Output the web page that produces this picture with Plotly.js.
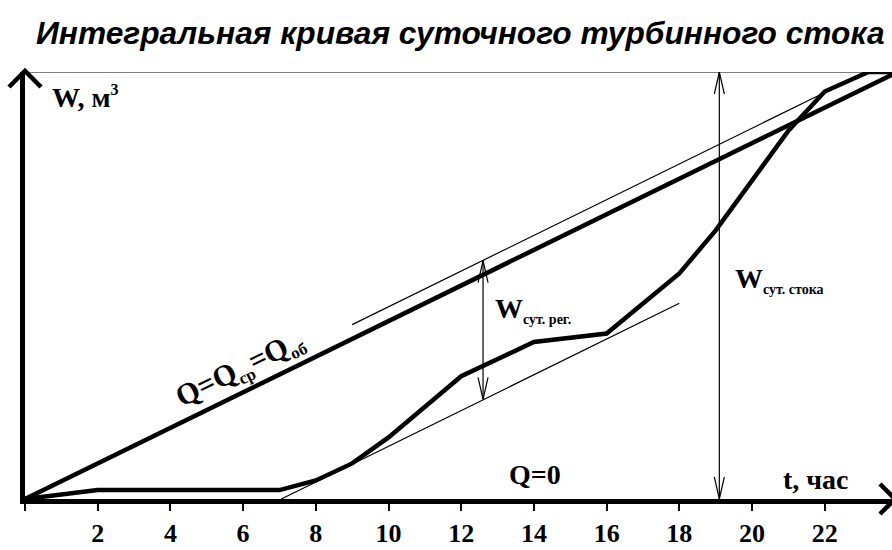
<!DOCTYPE html>
<html>
<head>
<meta charset="utf-8">
<script src="https://cdn.plot.ly/plotly-3.0.1.min.js"></script>
<style>html,body{margin:0;padding:0;background:#fff;}#chart{width:892px;height:550px;}</style>
</head>
<body>
<div id="chart"></div>
<script>
// ---- data (t in hours, W in relative units of daily volume) ----
const tickHours = [0, 2, 4, 6, 8, 10, 12, 14, 16, 18, 20, 22];
const tickLabels = ['', '2', '4', '6', '8', '10', '12', '14', '16', '18', '20', '22'];

const curveT = [0, 2, 7, 8, 9, 10, 12, 14, 16, 18, 19, 20, 21, 22, 23.2, 24];
const curveW = [0, 0.5, 0.5, 1.04, 2.0, 3.46, 6.9, 8.83, 9.3, 12.68, 15.1, 17.9, 20.7, 22.9, 24, 24];

const avgT = [0, 24];
const avgW = [0, 24];

const upperTangentT = [9, 22];
const upperTangentW = [9.8, 22.85];

const lowerTangentT = [7.05, 18];
const lowerTangentW = [0, 11];

const arrowT = [12.6, 19.1];
const arrowBottomW = [5.6, 0];
const arrowTopW = [13.4, 24];

const dayTotalW = 24;

// ---- traces ----
const traces = [];
traces.push({x: avgT, y: avgW, mode: 'lines', line: {color: '#000', width: 4.5}, hoverinfo: 'skip'});
traces.push({x: curveT, y: curveW, mode: 'lines', line: {color: '#000', width: 4.5}, hoverinfo: 'skip'});
traces.push({x: upperTangentT, y: upperTangentW, mode: 'lines', line: {color: '#000', width: 1.2}, hoverinfo: 'skip'});
traces.push({x: lowerTangentT, y: lowerTangentW, mode: 'lines', line: {color: '#000', width: 1.2}, hoverinfo: 'skip'});
for (let i = 0; i < arrowT.length; i++) {
  traces.push({x: [arrowT[i], arrowT[i]], y: [arrowBottomW[i], arrowTopW[i]], mode: 'lines',
    line: {color: '#000', width: 1.2}, hoverinfo: 'skip'});
}

// ---- decorations ----
const shapes = [];
shapes.push({type: 'line', xref: 'paper', yref: 'y', x0: 0, x1: 1, y0: dayTotalW, y1: dayTotalW,
  line: {color: '#000', width: 1.2}});
for (let i = 0; i < arrowT.length; i++) {
  shapes.push({type: 'path', xref: 'x', yref: 'y', xsizemode: 'pixel', ysizemode: 'pixel',
    xanchor: arrowT[i], yanchor: arrowTopW[i], path: 'M -5,-22 L 0,0 L 5,-22',
    line: {color: '#000', width: 1.2}});
  shapes.push({type: 'path', xref: 'x', yref: 'y', xsizemode: 'pixel', ysizemode: 'pixel',
    xanchor: arrowT[i], yanchor: arrowBottomW[i], path: 'M -5,22 L 0,0 L 5,22',
    line: {color: '#000', width: 1.2}});
}
shapes.push({type: 'path', xref: 'paper', yref: 'paper', xsizemode: 'pixel', ysizemode: 'pixel',
  xanchor: 0, yanchor: 1, path: 'M -16,-15 L 0,1 L 16,-15', line: {color: '#000', width: 4.5}});
shapes.push({type: 'path', xref: 'paper', yref: 'paper', xsizemode: 'pixel', ysizemode: 'pixel',
  xanchor: 1, yanchor: 0, path: 'M -12,15 L 3,0 L -12,-15', line: {color: '#000', width: 4.5}});

const serifFamily = 'Liberation Serif, Times New Roman, serif';
const serif = {family: serifFamily, size: 28, color: '#000', weight: 'bold'};
const subStyle = 'font-size:14px';
const annotations = [
  {x: 0.69, y: 22.6, xref: 'x', yref: 'y', xanchor: 'left', yanchor: 'middle', showarrow: false,
   text: 'W, м<sup><span style="font-size:16px">3</span></sup>', font: serif},
  {x: 14.03, y: 1.35, xref: 'x', yref: 'y', showarrow: false, text: 'Q=0', font: serif},
  {x: 21.76, y: 1.07, xref: 'x', yref: 'y', showarrow: false, text: 't, час', font: serif},
  {x: 12.87, y: 10.6, xref: 'x', yref: 'y', xanchor: 'left', showarrow: false,
   text: 'W<sub><span style="' + subStyle + '">сут. рег.</span></sub>', font: serif},
  {x: 19.48, y: 12.3, xref: 'x', yref: 'y', xanchor: 'left', showarrow: false,
   text: 'W<sub><span style="' + subStyle + '">сут. стока</span></sub>', font: serif},
  {x: 5.91, y: 7.3, xref: 'x', yref: 'y', showarrow: false, textangle: -26,
   text: 'Q=Q<sub><span style="font-size:17px">ср</span></sub>=Q<sub><span style="font-size:17px">об</span></sub>',
   font: {family: serifFamily, size: 30, color: '#000', weight: 'bold'}}
];

const layout = {
  width: 892, height: 550,
  margin: {l: 25, r: 0, t: 72, b: 51, pad: 0},
  paper_bgcolor: '#fff', plot_bgcolor: '#fff',
  showlegend: false,
  title: {text: 'Интегральная кривая суточного турбинного стока',
    font: {family: 'Liberation Sans, Arial, sans-serif', size: 31.7, color: '#000', weight: 'bold', style: 'italic'},
    x: 0.516, xanchor: 'center', xref: 'container', y: 0.94, yanchor: 'middle', yref: 'container'},
  xaxis: {range: [0, 23.85], showgrid: false, zeroline: false, showline: true, linecolor: '#000', linewidth: 5,
    tickmode: 'array', tickvals: tickHours, ticktext: tickLabels, ticks: 'outside', ticklen: 7, tickwidth: 2,
    tickcolor: '#000', tickfont: {family: serifFamily, size: 26, color: '#000', weight: 'bold'},
    fixedrange: true},
  yaxis: {range: [0, 24], showgrid: false, zeroline: false, showline: true, linecolor: '#000', linewidth: 5,
    showticklabels: false, ticks: '', fixedrange: true},
  shapes: shapes,
  annotations: annotations
};

Plotly.newPlot('chart', traces, layout, {displayModeBar: false, staticPlot: true});
</script>
</body>
</html>
